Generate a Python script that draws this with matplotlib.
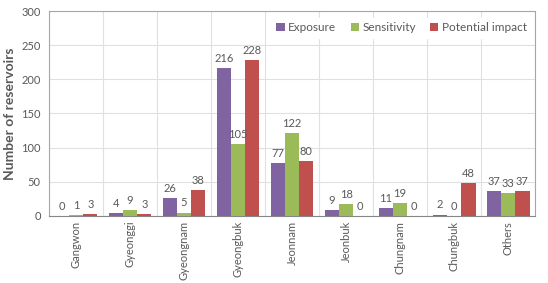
import numpy as np
from matplotlib import pyplot as plt

plt.rcParams["font.family"] = ["Lato", "DejaVu Sans"]

regions = ["Gangwon", "Gyeonggi", "Gyeongnam", "Gyeongbuk", "Jeonnam",
           "Jeonbuk", "Chungnam", "Chungbuk", "Others"]
exposure = [0, 4, 26, 216, 77, 9, 11, 2, 37]
sensitivity = [1, 9, 5, 105, 122, 18, 19, 0, 33]
impact = [3, 3, 38, 228, 80, 0, 0, 48, 37]

series = [("Exposure", exposure, "#8064A2"),
          ("Sensitivity", sensitivity, "#9BBB59"),
          ("Potential impact", impact, "#C0504D")]

fig = plt.figure(figsize=(5.48, 2.83), dpi=100)
ax = fig.add_axes([0.0894, 0.237, 0.887, 0.724])

x = np.arange(len(regions))
w = 0.265
grey = "#595959"
for i, (name, vals, col) in enumerate(series):
    pos = x + (i - 1) * w
    ax.bar(pos, vals, width=w, color=col, label=name, zorder=3)
    for px, v in zip(pos, vals):
        ax.text(px, v + 6, str(v), ha="center", va="bottom", fontsize=8,
                color=grey, zorder=4)

ax.set_xlim(-0.5, len(regions) - 0.5)
ax.set_ylim(0, 300)
ax.set_yticks(range(0, 301, 50))
ax.set_xticks(x)
ax.set_xticklabels(regions, rotation=90)
ax.set_xticks(np.arange(-0.5, len(regions), 1), minor=True)
ax.grid(True, which="minor", axis="x", color="#E0E0E0", linewidth=0.8, zorder=0)
ax.grid(True, which="major", axis="y", color="#E0E0E0", linewidth=0.8, zorder=0)
ax.tick_params(which="both", length=0, colors=grey, labelsize=8)
ax.tick_params(axis="y", pad=6)
for s in ax.spines.values():
    s.set_color("#A6A6A6")
    s.set_linewidth(0.8)
ax.spines["bottom"].set_color("#868686")

ax.set_ylabel("Number of reservoirs", fontsize=10, fontweight="bold", color=grey)

leg = ax.legend(loc="upper right", bbox_to_anchor=(1.0, 0.985), ncol=3,
                fontsize=8.5, frameon=True, handlelength=0.7, handleheight=0.7,
                handletextpad=0.3, columnspacing=1.2, borderaxespad=0.3)
leg.get_frame().set_edgecolor("white")
leg.get_frame().set_facecolor("white")
leg.get_frame().set_alpha(1)
for t in leg.get_texts():
    t.set_color(grey)
leg.set_zorder(5)

fig.savefig("out.png", dpi=100)
